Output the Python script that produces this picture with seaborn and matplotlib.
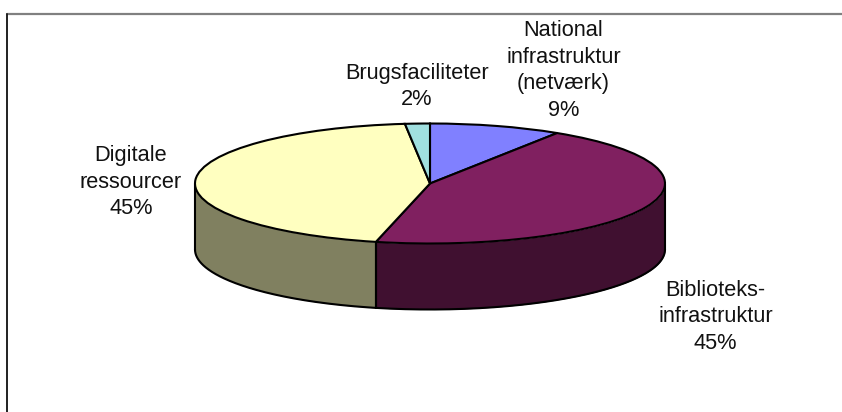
import numpy as np
import matplotlib
matplotlib.use("Agg")
import matplotlib.pyplot as plt
from matplotlib.lines import Line2D
import seaborn as sns

categories = ["National\ninfrastruktur\n(netværk)", "Biblioteks-\ninfrastruktur", "Digitale\nressourcer", "Brugsfaciliteter"]
values = [9.1, 44.6, 44.6, 1.7]
percent_labels = ["9%", "45%", "45%", "2%"]
top_colors = ["#8080FF", "#802060", "#FFFFC0", "#A0E0E0"]
side_colors = ["#404080", "#401030", "#808060", "#507070"]

sns.set_theme(style="white")
plt.rcParams["font.family"] = ["Liberation Sans", "DejaVu Sans"]

W, H = 842, 412
fig = plt.figure(figsize=(W / 100, H / 100), dpi=100)
ax = fig.add_axes([0, 0, 1, 1])
palette = sns.color_palette(top_colors)
side_palette = sns.color_palette(side_colors)

cx, cy, rx, ry, depth_px = 430, 183.5, 235, 60, 66
LW = 1.5
depth = depth_px / ry

fractions = np.array(values) / np.sum(values)
edges = 90 - 360 * np.concatenate([[0], np.cumsum(fractions)])

# extruded side, front half only
for i in range(len(values)):
    hi, lo = edges[i], edges[i + 1]
    a = max(lo, -180)
    b = min(hi, 0)
    if b <= a:
        continue
    t = np.radians(np.linspace(a, b, 200))
    x, y = np.cos(t), np.sin(t)
    ax.fill_between(x, y - depth, y, color=side_palette[i], lw=0, zorder=1)
    ax.plot(x, y - depth, color="black", lw=LW, zorder=2)
    ax.plot([x[0], x[0]], [y[0], y[0] - depth], color="black", lw=LW, zorder=2)
    ax.plot([x[-1], x[-1]], [y[-1], y[-1] - depth], color="black", lw=LW, zorder=2)

ax.pie(values, colors=palette, startangle=90, counterclock=False, radius=1,
       frame=True, wedgeprops=dict(edgecolor="black", linewidth=LW, zorder=3))
ax.set_aspect("auto")
ax.set_xlim(-cx / rx, (W - cx) / rx)
ax.set_ylim(-(H - cy) / ry, cy / ry)
ax.set_xticks([])
ax.set_yticks([])
for s in ax.spines.values():
    s.set_visible(False)

label_px = [(563.5, 70.5), (715.5, 317), (131, 182), (417, 86.5)]
spacing = [1.36, 1.32, 1.32, 1.32]
for cat, pct, (px, py), ls in zip(categories, percent_labels, label_px, spacing):
    fig.text(px / W, 1 - py / H, f"{cat}\n{pct}", ha="center", va="center",
             fontsize=15.65, color="#111111", linespacing=ls)

fig.add_artist(Line2D([7 / W, 1], [1 - 14 / H, 1 - 14 / H], color="#808080", lw=1.6))
fig.add_artist(Line2D([7 / W, 7 / W], [1 - 14 / H, 0], color="#202020", lw=1.4))

fig.savefig("out.png", dpi=100)
